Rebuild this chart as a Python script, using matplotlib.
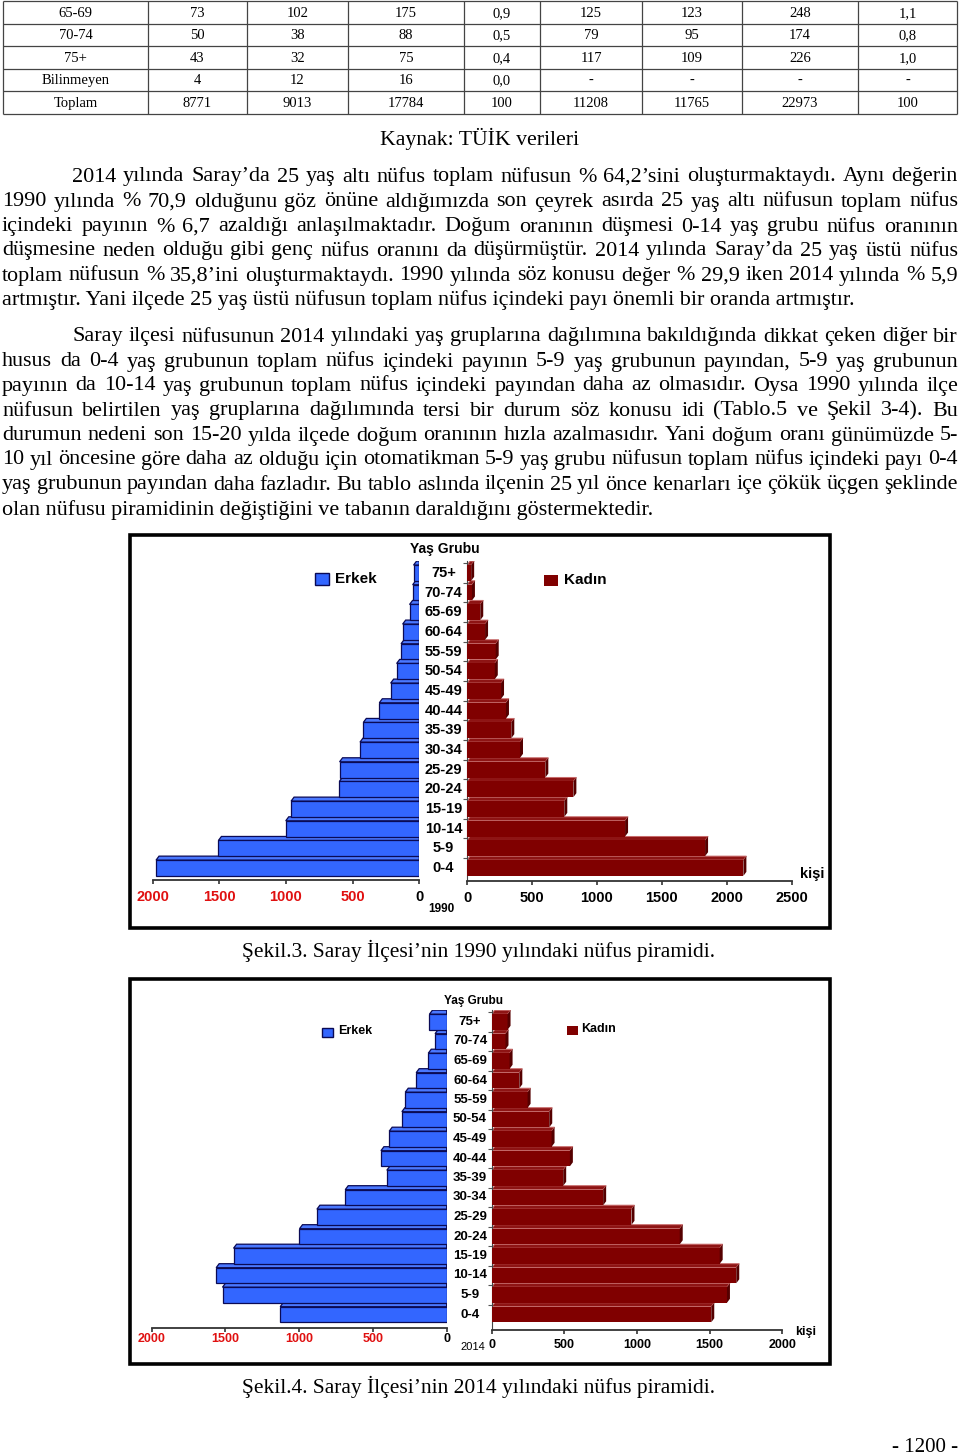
import matplotlib
matplotlib.use("Agg")
import numpy as np
import matplotlib.pyplot as plt
from matplotlib.patches import Rectangle, Polygon

# page size in pixels
W, H = 960, 1455

# -- table (end of Tablo.5) -- #
table_rows = ["65-69", "70-74", "75+", "Bilinmeyen", "Toplam"]
t_erkek_1990 = ["73", "50", "43", "4", "8771"]
t_kadin_1990 = ["102", "38", "32", "12", "9013"]
t_toplam_1990 = ["175", "88", "75", "16", "17784"]
t_oran_1990 = ["0,9", "0,5", "0,4", "0,0", "100"]
t_erkek_2014 = ["125", "79", "117", "-", "11208"]
t_kadin_2014 = ["123", "95", "109", "-", "11765"]
t_toplam_2014 = ["248", "174", "226", "-", "22973"]
t_oran_2014 = ["1,1", "0,8", "1,0", "-", "100"]

# -- pyramid data (bottom to top) -- #
age_groups = ["0-4", "5-9", "10-14", "15-19", "20-24", "25-29", "30-34", "35-39",
              "40-44", "45-49", "50-54", "55-59", "60-64", "65-69", "70-74", "75+"]
erkek_1990 = [1975, 1507, 1002, 962, 600, 598, 445, 420, 300, 215, 170, 137, 125, 73, 50, 43]
kadin_1990 = [2128, 1833, 1217, 749, 819, 603, 408, 341, 300, 262, 214, 221, 139, 102, 38, 32]
erkek_2014 = [1129, 1520, 1563, 1445, 998, 880, 688, 406, 446, 390, 304, 281, 207, 125, 79, 117]
kadin_2014 = [1511, 1619, 1683, 1569, 1294, 962, 767, 492, 538, 412, 396, 247, 190, 123, 95, 109]

para1 = [
    "2014 yılında Saray’da 25 yaş altı nüfus toplam nüfusun % 64,2’sini oluşturmaktaydı. Aynı değerin",
    "1990 yılında % 70,9 olduğunu göz önüne aldığımızda son çeyrek asırda 25 yaş altı nüfusun toplam nüfus",
    "içindeki payının % 6,7 azaldığı anlaşılmaktadır. Doğum oranının düşmesi 0-14 yaş grubu nüfus oranının",
    "düşmesine neden olduğu gibi genç nüfus oranını da düşürmüştür. 2014 yılında Saray’da 25 yaş üstü nüfus",
    "toplam nüfusun % 35,8’ini oluşturmaktaydı. 1990 yılında söz konusu değer % 29,9 iken 2014 yılında % 5,9",
    "artmıştır. Yani ilçede 25 yaş üstü nüfusun toplam nüfus içindeki payı önemli bir oranda artmıştır.",
]
para2 = [
    "Saray ilçesi nüfusunun 2014 yılındaki yaş gruplarına dağılımına bakıldığında dikkat çeken diğer bir",
    "husus da 0-4 yaş grubunun toplam nüfus içindeki payının 5-9 yaş grubunun payından, 5-9 yaş grubunun",
    "payının da 10-14 yaş grubunun toplam nüfus içindeki payından daha az olmasıdır. Oysa 1990 yılında ilçe",
    "nüfusun belirtilen yaş gruplarına dağılımında tersi bir durum söz konusu idi (Tablo.5 ve Şekil 3-4). Bu",
    "durumun nedeni son 15-20 yılda ilçede doğum oranının hızla azalmasıdır. Yani doğum oranı günümüzde 5-",
    "10 yıl öncesine göre daha az olduğu için otomatikman 5-9 yaş grubu nüfusun toplam nüfus içindeki payı 0-4",
    "yaş grubunun payından daha fazladır. Bu tablo aslında ilçenin 25 yıl önce kenarları içe çökük üçgen şeklinde",
    "olan nüfusu piramidinin değiştiğini ve tabanın daraldığını göstermektedir.",
]

SERIF = "Liberation Serif"
SANS = "Liberation Sans"
BLUE = "#3366ff"
BLUE_TOP = "#4a78ff"
NAVY = "#0a0a55"
DRED = "#800000"
DRED_TOP = "#8e1414"
DRED_SIDE = "#550000"
TRED = "#e01010"

fig = plt.figure(figsize=(W / 100, H / 100), dpi=100)
page = fig.add_axes([0, 0, 1, 1])
page.set_xlim(0, W)
page.set_ylim(H, 0)
page.axis("off")
rend = fig.canvas.get_renderer()


def px_axes(x0, y0, x1, y1):
    return fig.add_axes([x0 / W, 1 - y1 / H, (x1 - x0) / W, (y1 - y0) / H])


def text_w(t):
    return t.get_window_extent(rend).width


def put_line(txt, x0, x1, y, size, justify=True):
    if not justify:
        page.text(x0, y, txt, fontsize=size, family=SERIF, va="baseline")
        return
    words = txt.split(" ")
    objs = [page.text(0, y, w, fontsize=size, family=SERIF, va="baseline") for w in words]
    ws = [text_w(o) for o in objs]
    gap = (x1 - x0 - sum(ws)) / (len(words) - 1)
    x = x0
    for o, w in zip(objs, ws):
        o.set_x(x)
        x += w + gap


# body font size fitted so the last line of para1 reaches its width
probe = page.text(0, 0, para1[-1], fontsize=12, family=SERIF)
body_fs = 12 * 855 / text_w(probe)
probe.remove()

# -- table -- #
col_x = [3, 148, 247, 348, 464, 540, 642, 742, 858, 957]
row_y = [1, 23.5, 46, 68.5, 91, 113.5]
page.hlines(row_y, col_x[0], col_x[-1], color="#444444", lw=0.9)
page.vlines(col_x, row_y[0], row_y[-1], color="#444444", lw=0.9)
cols = [table_rows, t_erkek_1990, t_kadin_1990, t_toplam_1990, t_oran_1990,
        t_erkek_2014, t_kadin_2014, t_toplam_2014, t_oran_2014]
for c, vals in enumerate(cols):
    xc = (col_x[c] + col_x[c + 1]) / 2
    for r, v in enumerate(vals):
        yc = (row_y[r] + row_y[r + 1]) / 2
        page.text(xc, yc + 4.5, v, fontsize=10.5, family=SERIF, ha="center", va="baseline")

page.text(480, 145, "Kaynak: TÜİK verileri", fontsize=body_fs * 0.98, family=SERIF, ha="center", va="baseline")

# -- paragraphs -- #
p1_y = [176, 201, 226, 250, 275, 299]
for i, (line, y) in enumerate(zip(para1, p1_y)):
    x0 = 72 if i == 0 else 2
    put_line(line, x0, 958, y + 5.5, body_fs, justify=(i < len(para1) - 1))
p2_y = [336, 361, 385, 410, 435, 459, 484, 509]
for i, (line, y) in enumerate(zip(para2, p2_y)):
    x0 = 72 if i == 0 else 2
    put_line(line, x0, 958, y + 5.5, body_fs, justify=(i < len(para2) - 1))


def pyramid(m_box, f_box, row0, step, erkek, kadin, m_max, f_max, f_ticks,
            tick_fs, m_pad, f_pad, lab_x, lab_fs):
    y = np.arange(len(age_groups))
    h = 0.8
    # male side
    x0, y0, x1, y1 = m_box
    ax = px_axes(x0, y0, x1, y1)
    ax.set_facecolor("none")
    ax.set_xlim(m_max, 0)
    ax.set_ylim(-(y1 - row0) / step, (row0 - y0) / step)
    dx = 3 * m_max / (x1 - x0)
    dy = 4 / step
    ax.barh(y, erkek, height=h, color=BLUE, edgecolor=NAVY, lw=0.9, zorder=3)
    for yi, v in zip(y, erkek):
        t = yi + h / 2
        ax.add_patch(Polygon([(v, t), (v - dx, t + dy), (0, t + dy), (0, t)],
                             closed=True, fc=BLUE_TOP, ec=NAVY, lw=0.9, zorder=2))
    ax.set_xticks(np.arange(0, m_max + 1, 500))
    ax.set_yticks([])
    for s in ["top", "left", "right"]:
        ax.spines[s].set_visible(False)
    ax.spines["bottom"].set_color("#333333")
    ax.spines["bottom"].set_linewidth(1.3)
    ax.tick_params(axis="x", length=3, width=1.2, color="#333333", pad=m_pad)
    for lab in ax.get_xticklabels():
        lab.set_fontfamily(SANS)
        lab.set_fontweight("bold")
        lab.set_fontsize(tick_fs)
        lab.set_color("black" if lab.get_text() == "0" else TRED)

    # female side
    x0, y0, x1, y1 = f_box
    ax2 = px_axes(x0, y0, x1, y1)
    ax2.set_facecolor("none")
    ax2.set_xlim(0, f_max)
    ax2.set_ylim(-(y1 - row0) / step, (row0 - y0) / step)
    dx = 3 * f_max / (x1 - x0)
    ax2.barh(y, kadin, height=h, color=DRED, edgecolor="none", zorder=3)
    for yi, v in zip(y, kadin):
        t = yi + h / 2
        b = yi - h / 2
        ax2.add_patch(Polygon([(0, t), (dx, t + dy), (v + dx, t + dy), (v, t)],
                              closed=True, fc=DRED_TOP, ec="#c86a6a", lw=0.7, zorder=2))
        ax2.add_patch(Polygon([(v, b), (v + dx, b + dy), (v + dx, t + dy), (v, t)],
                              closed=True, fc=DRED_SIDE, ec="none", zorder=4))
    ax2.set_xticks(f_ticks)
    ax2.set_yticks(y + 0.5)
    ax2.set_yticklabels([])
    ax2.tick_params(axis="y", length=3, width=0.8, color="#555555")
    for s in ["top", "right"]:
        ax2.spines[s].set_visible(False)
    ax2.spines["left"].set_color("#444444")
    ax2.spines["bottom"].set_color("#333333")
    ax2.spines["bottom"].set_linewidth(1.3)
    ax2.tick_params(axis="x", length=3, width=1.2, color="#333333", pad=f_pad)
    for lab in ax2.get_xticklabels():
        lab.set_fontfamily(SANS)
        lab.set_fontweight("bold")
        lab.set_fontsize(tick_fs)

    # age group labels
    for yi, g in zip(y, age_groups):
        page.text(lab_x, row0 - yi * step, g, fontsize=lab_fs, family=SANS,
                  fontweight="bold", ha="center", va="center")


# -- chart 1: 1990 -- #
page.add_patch(Rectangle((130, 534.5), 700, 393, fill=False, ec="black", lw=2.6))
pyramid((152.7, 561.2, 419.3, 880), (467, 561.2, 791.7, 881),
        868, 19.67, erkek_1990, kadin_1990, 2000, 2500, np.arange(0, 2501, 500),
        10.5, 4.5, 4.5, 443.5, 10.5)
page.text(445, 549, "Yaş Grubu", fontsize=10, family=SANS, fontweight="bold", ha="center", va="center")
page.add_patch(Rectangle((315, 573), 14, 12, fc=BLUE, ec=NAVY, lw=1))
page.text(335, 579, "Erkek", fontsize=11, family=SANS, fontweight="bold", va="center")
page.add_patch(Rectangle((544, 575), 14, 11, fc=DRED, ec="none"))
page.text(564, 580, "Kadın", fontsize=11, family=SANS, fontweight="bold", va="center")
page.text(812, 874, "kişi", fontsize=10.5, family=SANS, fontweight="bold", ha="center", va="center")
page.text(441, 909, "1990", fontsize=8.5, family=SANS, fontweight="bold", ha="center", va="center")
page.text(479, 957, "Şekil.3. Saray İlçesi’nin 1990 yılındaki nüfus piramidi.", fontsize=body_fs * 0.97,
          family=SERIF, ha="center", va="baseline")

# -- chart 2: 2014 -- #
page.add_patch(Rectangle((130, 978.5), 700, 385, fill=False, ec="black", lw=2.6))
pyramid((151.7, 1010.3, 446.7, 1328.3), (491.7, 1010.3, 782.3, 1330),
        1314.5, 19.5, erkek_2014, kadin_2014, 2000, 2000, np.arange(0, 2001, 500),
        9, 0.5, 3.5, 470, 9.5)
page.text(473.5, 1001, "Yaş Grubu", fontsize=8.5, family=SANS, fontweight="bold", ha="center", va="center")
page.add_patch(Rectangle((322, 1027.5), 10.5, 9, fc=BLUE, ec=NAVY, lw=1))
page.text(338, 1030.5, "Erkek", fontsize=9, family=SANS, fontweight="bold", va="center")
page.add_patch(Rectangle((567, 1025.5), 10.5, 9.5, fc=DRED, ec="none"))
page.text(581.5, 1029.5, "Kadın", fontsize=9, family=SANS, fontweight="bold", va="center")
page.text(805.5, 1332, "kişi", fontsize=9, family=SANS, fontweight="bold", ha="center", va="center")
page.text(472.5, 1347.5, "2014", fontsize=8, family=SANS, ha="center", va="center")
page.text(479, 1393, "Şekil.4. Saray İlçesi’nin 2014 yılındaki nüfus piramidi.", fontsize=body_fs * 0.97,
          family=SERIF, ha="center", va="baseline")

page.text(958, 1452, "- 1200 -", fontsize=body_fs * 0.95, family=SERIF, ha="right", va="baseline")

fig.savefig("out.png", dpi=100)
